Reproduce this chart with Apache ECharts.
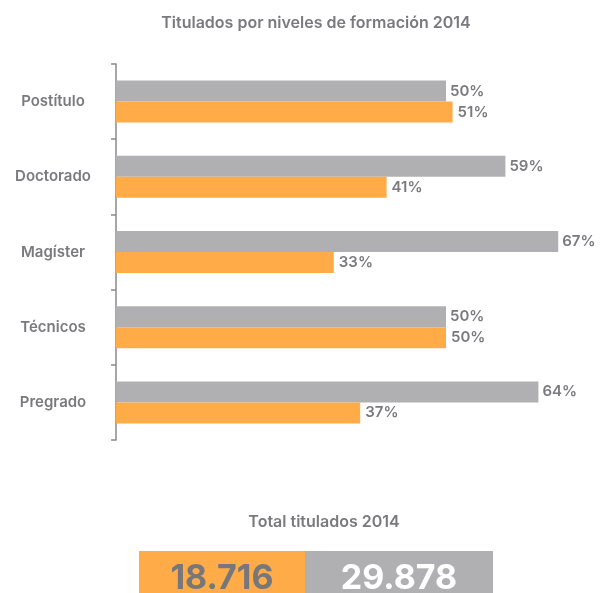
<!DOCTYPE html>
<html>
<head>
<meta charset="utf-8">
<style>
  html, body { margin: 0; padding: 0; background: #fff; }
  #chart { width: 601px; height: 593px; }
</style>
</head>
<body>
<div id="chart"></div>
<script src="https://cdn.jsdelivr.net/npm/echarts@6/dist/echarts.min.js"></script>
<script>
  var niveles = ['Postítulo', 'Doctorado', 'Magíster', 'Técnicos', 'Pregrado'];
  var grisValores = [50, 59, 67, 50, 64];
  var naranjaValores = [51, 41, 33, 50, 37];
  var totales = ['18.716', '29.878'];

  var GRIS = '#b0b0b2';
  var NARANJA = '#ffab48';
  var TEXTO = '#7a7a7e';
  var FUENTE = 'Inter, Roboto, sans-serif';

  var myChart = echarts.init(document.getElementById('chart'));

  var option = {
    animation: false,
    title: {
      text: 'Titulados por niveles de formación 2014',
      left: 311,
      textAlign: 'center',
      top: 10,
      textStyle: { color: TEXTO, fontSize: 16, fontWeight: 600, fontFamily: FUENTE }
    },
    grid: { left: 116, top: 64, height: 376, width: 462 },
    xAxis: {
      type: 'value',
      min: 0,
      max: 70,
      show: false
    },
    yAxis: {
      type: 'category',
      data: niveles,
      inverse: true,
      axisLine: { show: true, lineStyle: { color: '#8a8a8e', width: 1.5 } },
      axisTick: { show: true, length: 5, lineStyle: { color: '#8a8a8e', width: 1.5 } },
      axisLabel: {
        align: 'center',
        margin: 63,
        color: TEXTO,
        fontSize: 15,
        fontWeight: 600,
        fontFamily: FUENTE
      }
    },
    series: [
      {
        name: 'gris',
        type: 'bar',
        data: grisValores,
        barWidth: 21,
        barGap: '0%',
        itemStyle: { color: GRIS },
        label: {
          show: true, position: 'right', distance: 4,
          formatter: '{c}%', color: TEXTO, fontSize: 15, fontWeight: 600, fontFamily: FUENTE
        }
      },
      {
        name: 'naranja',
        type: 'bar',
        data: naranjaValores,
        barWidth: 21,
        barGap: '0%',
        itemStyle: { color: NARANJA },
        label: {
          show: true, position: 'right', distance: 5,
          formatter: '{c}%', color: TEXTO, fontSize: 15, fontWeight: 600, fontFamily: FUENTE
        }
      }
    ],
    graphic: [
      {
        type: 'text',
        x: 324,
        y: 522,
        style: {
          text: 'Total titulados 2014', fill: TEXTO, fontSize: 16, fontWeight: 600, fontFamily: FUENTE,
          align: 'center', verticalAlign: 'middle'
        }
      },
      {
        type: 'rect',
        shape: { x: 139, y: 551, width: 166, height: 50 },
        style: { fill: NARANJA }
      },
      {
        type: 'rect',
        shape: { x: 305, y: 551, width: 188, height: 50 },
        style: { fill: GRIS }
      },
      {
        type: 'text',
        x: 222,
        y: 579,
        style: {
          text: totales[0], fill: '#77777b', fontSize: 34, fontWeight: 'bold', fontFamily: FUENTE,
          align: 'center', verticalAlign: 'middle'
        }
      },
      {
        type: 'text',
        x: 399,
        y: 579,
        style: {
          text: totales[1], fill: '#ffffff', fontSize: 34, fontWeight: 'bold', fontFamily: FUENTE,
          align: 'center', verticalAlign: 'middle'
        }
      }
    ]
  };

  myChart.setOption(option);
</script>
</body>
</html>
